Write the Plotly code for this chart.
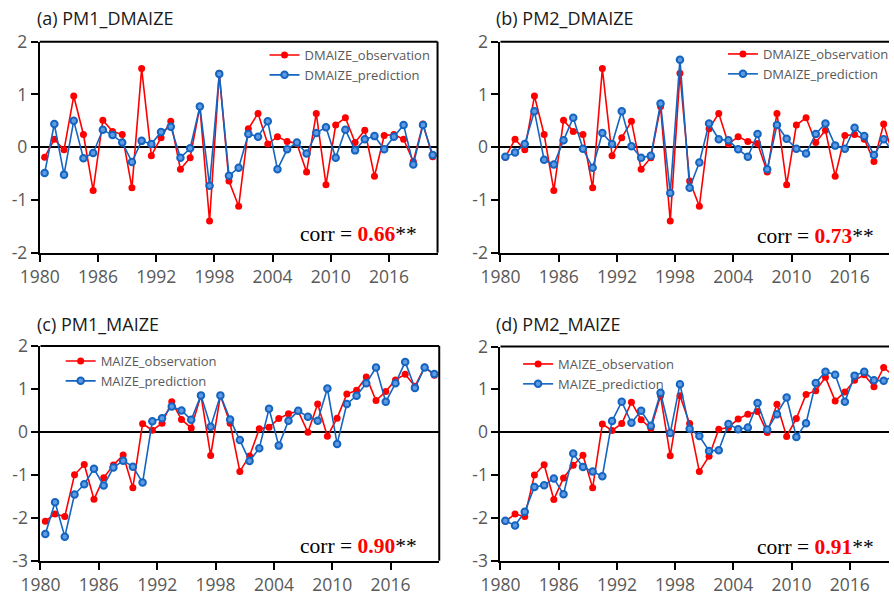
import plotly.graph_objects as go

years = list(range(1980, 2021))
tick_years = [1980, 1986, 1992, 1998, 2004, 2010, 2016]

dmaize_obs = [-0.19, 0.15, -0.05, 0.97, 0.24, -0.82, 0.51, 0.30, 0.24, -0.77,
              1.49, -0.16, 0.18, 0.49, -0.42, -0.20, 0.77, -1.40, 1.40, -0.64,
              -1.12, 0.35, 0.64, 0.06, 0.20, 0.11, 0.07, -0.47, 0.64, -0.71,
              0.42, 0.56, 0.09, 0.32, -0.55, 0.22, 0.24, 0.15, -0.27, 0.44,
              -0.18]
dmaize_pred_pm1 = [-0.49, 0.44, -0.52, 0.50, -0.21, -0.11, 0.33, 0.23, 0.09, -0.28,
                   0.12, 0.06, 0.29, 0.39, -0.20, -0.02, 0.77, -0.73, 1.39, -0.54,
                   -0.39, 0.25, 0.20, 0.49, -0.42, -0.04, 0.09, -0.12, 0.27, 0.38,
                   -0.20, 0.33, -0.06, 0.15, 0.21, -0.04, 0.20, 0.42, -0.33, 0.42,
                   -0.15]
dmaize_pred_pm2 = [-0.18, -0.10, 0.06, 0.68, -0.24, -0.33, 0.13, 0.56, -0.03, -0.39,
                   0.27, 0.06, 0.68, 0.02, -0.20, -0.16, 0.83, -0.87, 1.66, -0.77,
                   -0.29, 0.45, 0.15, 0.13, -0.04, -0.18, 0.25, -0.42, 0.42, 0.16,
                   -0.03, -0.12, 0.25, 0.45, 0.03, -0.03, 0.37, 0.21, -0.15, 0.15,
                   -0.10]
maize_obs = [-2.08, -1.91, -1.97, -1.00, -0.76, -1.57, -1.07, -0.77, -0.54, -1.30,
             0.19, 0.04, 0.20, 0.70, 0.29, 0.09, 0.85, -0.55, 0.85, 0.20,
             -0.92, -0.56, 0.07, 0.11, 0.31, 0.42, 0.48, -0.01, 0.65, -0.10,
             0.32, 0.88, 0.97, 1.28, 0.73, 0.94, 1.21, 1.34, 1.06, 1.51,
             1.32]
maize_pred_pm1 = [-2.38, -1.64, -2.44, -1.46, -1.22, -0.86, -1.25, -0.83, -0.67, -0.81,
                  -1.18, 0.25, 0.32, 0.59, 0.50, 0.28, 0.85, 0.12, 0.85, 0.29,
                  -0.19, -0.68, -0.38, 0.54, -0.32, 0.26, 0.49, 0.35, 0.26, 1.01,
                  -0.28, 0.65, 0.84, 1.13, 1.50, 0.70, 1.13, 1.63, 1.02, 1.50,
                  1.35]
maize_pred_pm2 = [-2.07, -2.18, -1.86, -1.28, -1.24, -1.08, -1.45, -0.50, -0.81, -0.92,
                  -1.03, 0.26, 0.71, 0.22, 0.50, 0.15, 0.92, -0.02, 1.12, 0.08,
                  -0.09, -0.44, -0.42, 0.19, 0.07, 0.11, 0.68, 0.06, 0.42, 0.81,
                  -0.11, 0.21, 1.15, 1.41, 1.34, 0.71, 1.32, 1.41, 1.21, 1.20,
                  1.30]

panel_titles = ["(a) PM1_DMAIZE", "(b) PM2_DMAIZE", "(c) PM1_MAIZE", "(d) PM2_MAIZE"]
corr_values = ["0.66", "0.73", "0.90", "0.91"]
obs_names = ["DMAIZE_observation", "DMAIZE_observation", "MAIZE_observation", "MAIZE_observation"]
pred_names = ["DMAIZE_prediction", "DMAIZE_prediction", "MAIZE_prediction", "MAIZE_prediction"]
obs_series = [dmaize_obs, dmaize_obs, maize_obs, maize_obs]
pred_series = [dmaize_pred_pm1, dmaize_pred_pm2, maize_pred_pm1, maize_pred_pm2]

W, H = 894, 598
RED = "#ff0000"
BLUE = "#1464c0"
GRAY = "#595959"

# pixel layout of each panel: (left, right, top, bottom, ymin, ymax, xmax_units)
panels = [
    (40, 440, 41.7, 252.7, -2, 2, 41.0),
    (503.3, 894, 41.7, 252.7, -2, 2, 40.05),
    (40.7, 441.7, 346, 560.7, -3, 2, 41.0),
    (503.3, 894, 346.5, 560.7, -3, 2, 40.05),
]
legend_pos = [(266, 40), (727, 39), (61, 346), (521, 349)]
corr_pos = [(421, 234), (881, 236), (421, 546), (881, 547)]
title_pos = [(35, 18), (497, 18), (35, 324), (497, 324)]

fig = go.Figure()
layout = dict(width=W, height=H, margin=dict(l=0, r=0, t=0, b=0, pad=0), autosize=False,
              plot_bgcolor="white", paper_bgcolor="white", showlegend=True)
shapes = []
annotations = []

for i in range(4):
    left, right, top, bottom, ymin, ymax, xunits = panels[i]
    sfx = "" if i == 0 else str(i + 1)
    xa, ya = "x" + sfx, "y" + sfx
    leg = "legend" + sfx
    fig.add_trace(go.Scatter(
        x=years, y=obs_series[i], name=obs_names[i], mode="lines+markers",
        line=dict(color=RED, width=1.6), marker=dict(color=RED, size=7),
        xaxis=xa, yaxis=ya, legend=leg, cliponaxis=True))
    fig.add_trace(go.Scatter(
        x=years, y=pred_series[i], name=pred_names[i], mode="lines+markers",
        line=dict(color=BLUE, width=1.6),
        marker=dict(color="#5f9be2", size=6.5, line=dict(color=BLUE, width=2)),
        xaxis=xa, yaxis=ya, legend=leg, cliponaxis=True))

    x0 = years[0] - 0.5
    yticks = list(range(ymin, ymax + 1))
    layout["xaxis" + sfx] = dict(
        domain=[left / W, right / W], anchor=ya, range=[x0, x0 + xunits],
        tickvals=[t - 0.5 for t in tick_years], ticktext=[str(t) for t in tick_years],
        ticks="outside", ticklen=7, tickwidth=2, tickcolor="black", automargin=False,
        showline=True, linecolor="black", linewidth=2, showgrid=False, zeroline=False,
        tickfont=dict(family="Open Sans", size=17.5, color=GRAY))
    layout["yaxis" + sfx] = dict(
        domain=[1 - bottom / H, 1 - top / H], anchor=xa, range=[ymin, ymax],
        tickvals=yticks, ticktext=[str(v) for v in yticks],
        ticks="outside", ticklen=7, tickwidth=2, tickcolor="black", automargin=False,
        showline=True, linecolor="black", linewidth=2, showgrid=False,
        zeroline=True, zerolinecolor="black", zerolinewidth=2,
        tickfont=dict(family="Open Sans", size=17.5, color=GRAY))
    lx, ly = legend_pos[i]
    layout[leg] = dict(x=lx / W, y=1 - ly / H, xanchor="left", yanchor="top",
                       bgcolor="rgba(0,0,0,0)", borderwidth=0, tracegroupgap=0,
                       font=dict(family="Open Sans", size=13, color=GRAY))
    # frame: top line, plus right line when the panel is not cut off
    shapes.append(dict(type="line", xref=xa + " domain", yref=ya + " domain",
                       x0=0, x1=1, y0=1, y1=1, line=dict(color="black", width=2)))
    if right < W - 1:
        shapes.append(dict(type="line", xref=xa + " domain", yref=ya + " domain",
                           x0=1, x1=1, y0=0, y1=1, line=dict(color="black", width=2)))
    tx, ty = title_pos[i]
    annotations.append(dict(text=panel_titles[i], xref="paper", yref="paper",
                            x=tx / W, y=1 - ty / H, xanchor="left", yanchor="middle",
                            showarrow=False,
                            font=dict(family="Open Sans", size=18, color="#1a1a1a")))
    cx, cy = corr_pos[i]
    annotations.append(dict(
        text="corr = <b><span style='color:#ff0000'>" + corr_values[i] + "</span></b>**",
        xref="paper", yref="paper", x=cx / W, y=1 - cy / H,
        xanchor="right", yanchor="middle", showarrow=False,
        font=dict(family="Liberation Serif", size=21.5, color="black")))

layout["shapes"] = shapes
layout["annotations"] = annotations
fig.update_layout(**layout)
fig.write_html("out.html", config={"displayModeBar": False},
               post_script="document.body.style.margin='0px';document.body.style.overflow='hidden';")
